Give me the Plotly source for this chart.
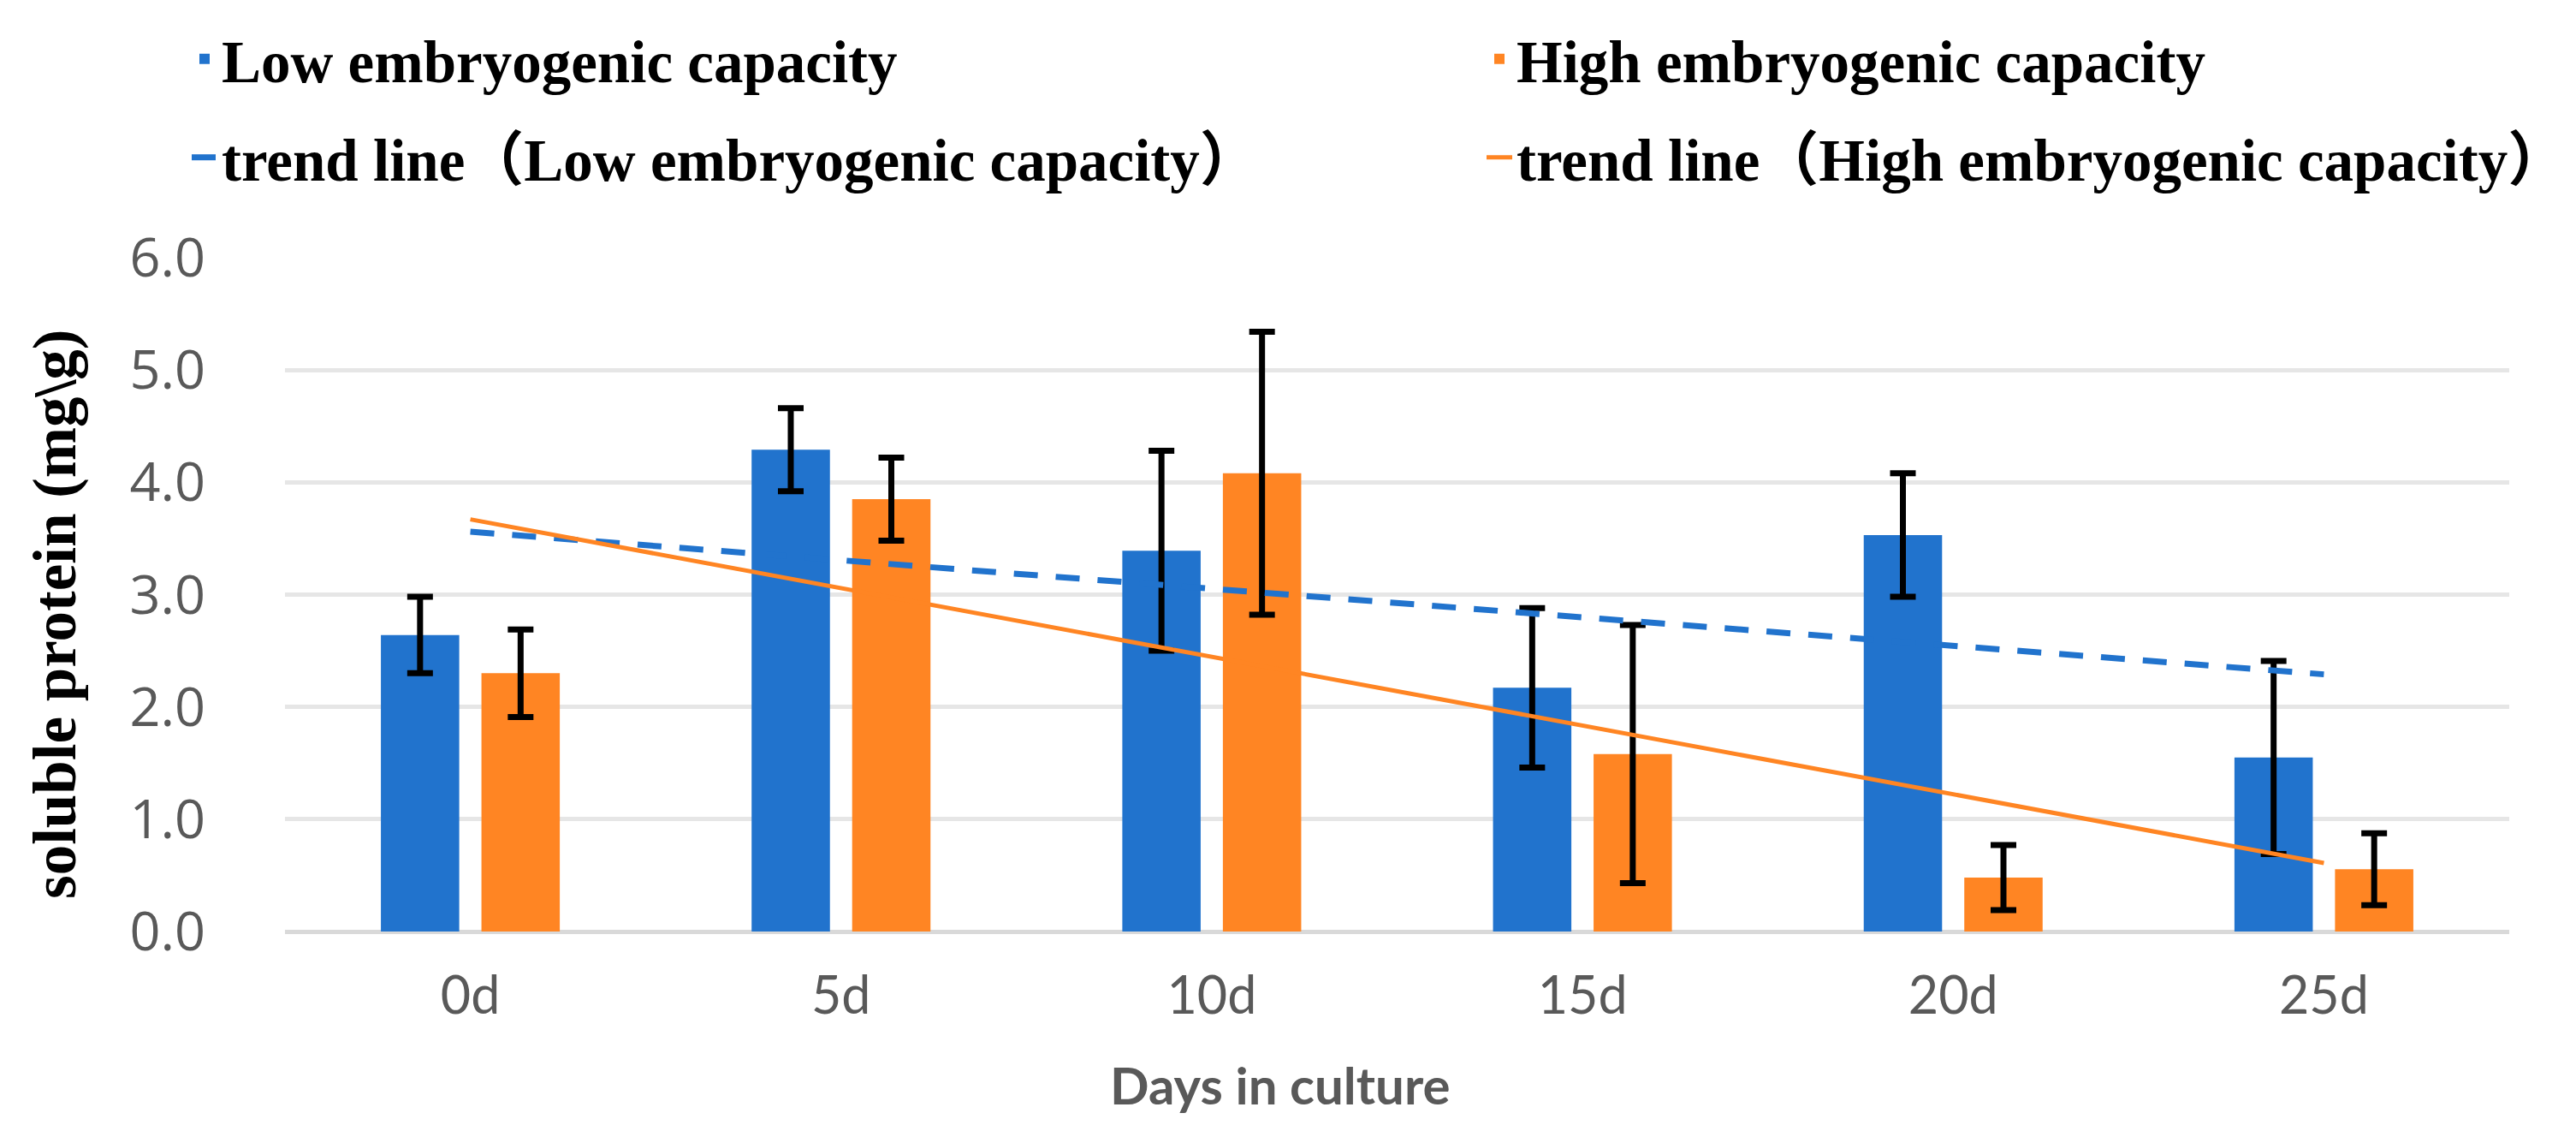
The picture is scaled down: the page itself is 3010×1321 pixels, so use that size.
import plotly.graph_objects as go

# ---- data ----
days = ["0d", "5d", "10d", "15d", "20d", "25d"]
low_vals = [2.64, 4.29, 3.39, 2.17, 3.53, 1.55]
low_err = [0.34, 0.37, 0.89, 0.71, 0.55, 0.86]
high_vals = [2.30, 3.85, 4.08, 1.58, 0.48, 0.555]
high_err = [0.39, 0.37, 1.26, 1.15, 0.29, 0.32]
trend_x = ["0d", "25d"]
trend_low = [3.56, 2.29]
trend_high = [3.67, 0.61]
y_ticks = [0, 1, 2, 3, 4, 5, 6]

BLUE = "#2173CD"
ORANGE = "#FF8523"
GRAY = "#595959"
W, H = 3010, 1321
L, R, T, B = 325, 86, 293, 241

serif = "Liberation Serif, Noto Sans CJK SC"

fig = go.Figure()
fig.add_trace(go.Bar(
    x=days, y=low_vals, name="Low embryogenic capacity",
    marker=dict(color=BLUE, line=dict(width=0)),
    error_y=dict(type="data", array=low_err, visible=True, color="black", thickness=7, width=15),
    legend="legend",
))
fig.add_trace(go.Bar(
    x=days, y=high_vals, name="High embryogenic capacity",
    marker=dict(color=ORANGE, line=dict(width=0)),
    error_y=dict(type="data", array=high_err, visible=True, color="black", thickness=7, width=15),
    legend="legend2",
))
fig.add_trace(go.Scatter(
    x=trend_x, y=trend_low, mode="lines", name="trend line（Low embryogenic capacity）",
    line=dict(color=BLUE, width=7, dash="28px,21px"),
    legend="legend3",
))
fig.add_trace(go.Scatter(
    x=trend_x, y=trend_high, mode="lines", name="trend line（High embryogenic capacity）",
    line=dict(color=ORANGE, width=5),
    legend="legend4",
))

def leg(xpx, ypx):
    return dict(
        orientation="h", xref="container", yref="container",
        x=xpx / W, y=1 - ypx / H,
        xanchor="left", yanchor="middle",
        font=dict(family=serif, size=69, color="black", weight="bold"),
        bgcolor="rgba(0,0,0,0)", borderwidth=0, itemwidth=30,
    )

fig.update_layout(
    width=W, height=H,
    margin=dict(l=L, r=R, t=T, b=B, pad=0, autoexpand=False),
    paper_bgcolor="white", plot_bgcolor="white",
    barmode="group", bargap=0.4575, bargroupgap=0.221,
    showlegend=True,
    legend=leg(211, 61),
    legend2=leg(1724, 61),
    legend3=leg(211, 176),
    legend4=leg(1724, 176),
    xaxis=dict(
        type="category", categoryorder="array", categoryarray=days,
        showgrid=False, showline=False, zeroline=False,
        ticks="", ticklabelstandoff=34,
        tickfont=dict(family="Lato", size=61, color=GRAY),
    ),
    yaxis=dict(
        range=[0, 6], tickvals=y_ticks, tickformat=".1f",
        showgrid=True, gridcolor="#E6E6E6", gridwidth=4.5,
        zeroline=True, zerolinecolor="#D9D9D9", zerolinewidth=5,
        showline=False, ticks="", ticklabelstandoff=92,
        tickfont=dict(family="Open Sans", size=63, color=GRAY),
    ),
    annotations=[
        dict(text="<b>Days in culture</b>", xref="paper", yref="paper",
             x=(1487 - L) / (W - L - R), y=0, xanchor="center", yanchor="middle",
             yshift=-179, showarrow=False,
             font=dict(family="Lato", size=60, color=GRAY)),
        dict(text="<b>soluble protein (mg\\g)</b>", xref="paper", yref="paper",
             x=(56 - L) / (W - L - R), y=(H - B - 710) / (H - T - B),
             xanchor="center", yanchor="middle", textangle=-90, showarrow=False,
             font=dict(family=serif, size=71, color="black")),
    ],
)

fig.write_html("out.html")
